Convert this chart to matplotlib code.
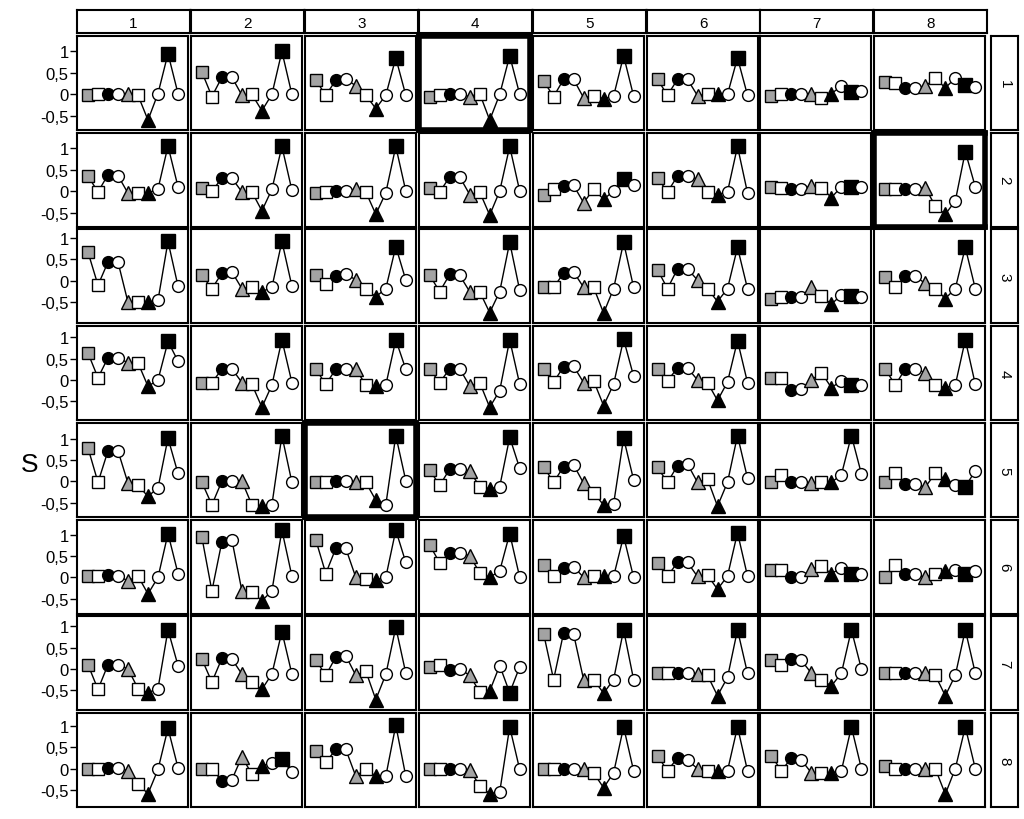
import numpy as np
import matplotlib.pyplot as plt

plt.rcParams['font.family'] = ['Liberation Sans', 'DejaVu Sans']

col_labels = ['1', '2', '3', '4', '5', '6', '7', '8']
row_labels = ['1', '2', '3', '4', '5', '6', '7', '8']
steps = np.arange(10)

# each panel: 10 values in order
# gray square, open, black circle, open, gray triangle, open, black triangle, open, black square, open
row1 = [
    [-0.02, 0.0, 0.0, 0.0, 0.0, -0.02, -0.6, 0.02, 0.95, 0.02],
    [0.52, -0.05, 0.4, 0.4, -0.02, 0.0, -0.38, 0.0, 1.0, 0.0],
    [0.33, -0.02, 0.33, 0.36, 0.2, -0.02, -0.33, -0.02, 0.85, -0.02],
    [-0.05, -0.02, 0.0, 0.0, -0.05, 0.02, -0.6, 0.0, 0.9, 0.0],
    [0.31, -0.05, 0.35, 0.35, -0.08, -0.03, -0.1, -0.04, 0.9, -0.04],
    [0.35, -0.02, 0.35, 0.35, -0.03, 0.0, 0.0, 0.0, 0.85, -0.02],
    [-0.04, 0.0, 0.0, 0.0, 0.0, -0.08, 0.02, 0.19, 0.05, 0.08],
    [0.28, 0.27, 0.15, 0.15, 0.19, 0.38, 0.15, 0.38, 0.23, 0.18],
]
row2 = [
    [0.35, -0.02, 0.38, 0.36, -0.05, -0.05, -0.05, 0.05, 1.05, 0.1],
    [0.08, 0.0, 0.3, 0.3, -0.02, -0.02, -0.46, 0.04, 1.04, 0.02],
    [-0.05, -0.02, 0.0, 0.0, 0.04, -0.02, -0.54, -0.04, 1.04, 0.0],
    [0.08, -0.02, 0.33, 0.33, -0.08, -0.02, -0.56, 0.0, 1.04, 0.0],
    [-0.1, 0.04, 0.12, 0.13, -0.27, 0.04, -0.19, 0.0, 0.27, 0.15],
    [0.31, -0.02, 0.35, 0.35, 0.28, -0.02, -0.08, -0.02, 1.04, -0.04],
    [0.1, 0.08, 0.04, 0.05, 0.12, 0.08, -0.15, 0.1, 0.1, 0.1],
    [0.04, 0.05, 0.05, 0.05, 0.08, -0.35, -0.54, -0.23, 0.92, 0.1],
]
row3 = [
    [0.67, -0.1, 0.44, 0.44, -0.5, -0.48, -0.5, -0.45, 0.92, -0.12],
    [0.13, -0.18, 0.18, 0.21, -0.18, -0.14, -0.25, -0.15, 0.92, -0.12],
    [0.13, -0.08, 0.11, 0.15, 0.03, -0.18, -0.37, -0.18, 0.8, 0.02],
    [0.13, -0.25, 0.15, 0.13, -0.25, -0.25, -0.74, -0.25, 0.9, -0.22],
    [-0.14, -0.15, 0.18, 0.21, -0.15, -0.15, -0.75, -0.18, 0.9, -0.15],
    [0.26, -0.18, 0.28, 0.28, 0.02, -0.18, -0.48, -0.18, 0.78, -0.18],
    [-0.43, -0.37, -0.37, -0.38, -0.14, -0.35, -0.54, -0.33, -0.35, -0.38],
    [0.08, -0.15, 0.11, 0.11, -0.06, -0.18, -0.41, -0.18, 0.78, -0.18],
]
row4 = [
    [0.63, 0.05, 0.52, 0.52, 0.4, 0.4, -0.15, 0.0, 0.9, 0.44],
    [-0.06, -0.06, 0.25, 0.26, -0.06, -0.1, -0.64, -0.12, 0.94, -0.06],
    [0.25, -0.1, 0.25, 0.26, 0.26, -0.12, -0.14, -0.12, 0.94, 0.25],
    [0.25, -0.06, 0.26, 0.26, -0.14, -0.06, -0.64, -0.25, 0.94, -0.1],
    [0.26, -0.05, 0.31, 0.32, -0.06, -0.02, -0.6, -0.1, 0.95, 0.09],
    [0.26, -0.02, 0.28, 0.28, 0.0, -0.06, -0.48, -0.05, 0.92, -0.06],
    [0.05, 0.05, -0.23, -0.22, 0.0, 0.17, -0.18, -0.02, -0.12, -0.12],
    [0.25, -0.12, 0.26, 0.26, 0.17, -0.12, -0.18, -0.12, 0.94, -0.1],
]
row5 = [
    [0.79, -0.02, 0.72, 0.72, -0.04, -0.09, -0.35, -0.15, 1.02, 0.19],
    [-0.02, -0.55, 0.01, 0.01, 0.01, -0.55, -0.58, -0.55, 1.08, -0.02],
    [-0.02, -0.02, 0.01, 0.01, -0.02, -0.02, -0.44, -0.55, 1.08, 0.02],
    [0.27, -0.09, 0.29, 0.29, 0.25, -0.12, -0.17, -0.12, 1.04, 0.31],
    [0.35, -0.02, 0.35, 0.39, -0.04, -0.27, -0.55, -0.53, 1.02, 0.04],
    [0.33, -0.02, 0.37, 0.41, -0.02, 0.06, -0.58, -0.02, 1.08, 0.08],
    [-0.02, 0.16, -0.02, -0.02, -0.04, -0.02, -0.02, 0.16, 1.08, 0.18],
    [-0.02, 0.21, -0.07, -0.07, -0.13, 0.19, 0.06, -0.09, -0.12, 0.25],
]
row6 = [
    [0.02, 0.02, 0.05, 0.03, -0.08, 0.03, -0.39, 0.0, 1.03, 0.09],
    [0.94, -0.32, 0.84, 0.88, -0.32, -0.34, -0.55, -0.32, 1.11, 0.03],
    [0.88, 0.09, 0.68, 0.68, 0.0, -0.03, -0.06, 0.0, 1.11, 0.35],
    [0.76, 0.34, 0.57, 0.57, 0.51, 0.11, 0.0, 0.15, 1.03, 0.0],
    [0.28, 0.03, 0.22, 0.25, 0.0, 0.03, 0.02, 0.02, 0.97, 0.0],
    [0.34, 0.03, 0.35, 0.35, 0.02, 0.05, -0.28, 0.03, 1.05, 0.03],
    [0.17, 0.18, 0.0, 0.0, 0.2, 0.26, 0.09, 0.22, 0.09, 0.09],
    [0.0, 0.3, 0.07, 0.07, 0.0, 0.09, 0.15, 0.17, 0.09, 0.15],
]
row7 = [
    [0.1, -0.48, 0.1, 0.1, 0.0, -0.46, -0.56, -0.46, 0.92, 0.08],
    [0.23, -0.31, 0.25, 0.23, -0.12, -0.31, -0.48, -0.12, 0.88, -0.12],
    [0.21, -0.15, 0.28, 0.31, -0.15, -0.05, -0.72, -0.13, 0.98, -0.1],
    [0.05, 0.1, -0.02, 0.0, -0.15, -0.54, -0.52, 0.08, -0.56, 0.05],
    [0.83, -0.25, 0.85, 0.82, -0.25, -0.25, -0.57, -0.25, 0.92, -0.25],
    [-0.1, -0.1, -0.1, -0.1, -0.12, -0.15, -0.63, -0.2, 0.92, -0.1],
    [0.2, 0.1, 0.23, 0.2, -0.1, -0.25, -0.4, -0.1, 0.92, 0.0],
    [-0.1, -0.1, -0.1, -0.1, -0.1, -0.15, -0.63, -0.15, 0.92, -0.1],
]
row8 = [
    [-0.02, -0.02, 0.02, 0.02, -0.05, -0.36, -0.59, -0.02, 0.95, 0.02],
    [-0.02, -0.02, -0.28, -0.26, 0.28, -0.13, 0.06, 0.14, 0.22, -0.08],
    [0.41, 0.15, 0.45, 0.45, -0.18, 0.0, -0.18, -0.18, 1.02, -0.18],
    [0.0, -0.02, -0.02, -0.02, -0.03, -0.4, -0.59, -0.55, 0.98, -0.02],
    [0.0, 0.0, 0.0, 0.0, 0.0, -0.1, -0.45, -0.1, 0.98, -0.05],
    [0.3, -0.05, 0.25, 0.2, 0.0, -0.05, -0.05, -0.05, 0.98, -0.05],
    [0.3, -0.05, 0.25, 0.2, -0.1, -0.1, -0.1, -0.05, 0.98, 0.0],
    [0.05, 0.0, 0.0, 0.0, 0.0, 0.0, -0.6, 0.0, 0.98, 0.0],
]
rows = [row1, row2, row3, row4, row5, row6, row7, row8]

# y range of each row of panels
ylims = [(-0.83, 1.36), (-0.83, 1.36), (-0.99, 1.2), (-0.94, 1.26),
         (-0.83, 1.38), (-0.85, 1.36), (-0.97, 1.24), (-0.9, 1.31)]
framed = [(0, 3), (1, 7), (4, 2)]

gray = '#a3a3a3'
markers = ['s', 's', 'o', 'o', '^', 's', '^', 'o', 's', 'o']
faces = [gray, 'white', 'black', 'white', gray, 'white', 'black', 'white', 'black', 'white']
sizes = [8.5, 8, 8.5, 8.5, 9.5, 8, 10, 8.5, 10, 8.5]

W, H = 1024, 820
fig = plt.figure(figsize=(W / 100, H / 100), dpi=100)


def box(x, y, w, h):
    return [x / W, 1 - (y + h) / H, w / W, h / H]


x_left, x_step, pw = 77, 113.9, 111
y_top, y_step, ph = 37, 96.7, 94

# column header strip
for c in range(8):
    hx = fig.add_axes(box(x_left + c * x_step, 11, pw + 2, 23))
    hx.set_xticks([])
    hx.set_yticks([])
    for s in hx.spines.values():
        s.set_linewidth(1.5)
    hx.text(0.5, 0.45, col_labels[c], ha='center', va='center', fontsize=11)

for r in range(8):
    y0 = y_top + r * y_step
    # row label strip on the right
    sx = fig.add_axes(box(991, y0, 27, ph))
    sx.set_xticks([])
    sx.set_yticks([])
    for s in sx.spines.values():
        s.set_linewidth(1.5)
    sx.text(0.5, 0.5, row_labels[r], rotation=-90, ha='center', va='center', fontsize=11)

    for c in range(8):
        ax = fig.add_axes(box(x_left + c * x_step, y0, pw, ph))
        vals = rows[r][c]
        ax.plot(steps, vals, color='black', lw=1, zorder=1)
        for i in steps:
            ax.plot(i, vals[i], marker=markers[i], ms=sizes[i], mfc=faces[i],
                    mec='black', mew=1, linestyle='none', zorder=2 + i)
        ax.set_xlim(-1.1, 10.0)
        ax.set_ylim(*ylims[r])
        ax.set_xticks([])
        lw = 4 if (r, c) in framed else 1.5
        for s in ax.spines.values():
            s.set_linewidth(lw)
        if c == 0:
            ax.set_yticks([-0.5, 0, 0.5, 1])
            ax.set_yticklabels(['-0,5', '0', '0,5', '1'], fontsize=12)
            ax.tick_params(axis='y', length=5, width=1, pad=1)
        else:
            ax.set_yticks([])

fig.text(30 / W, 1 - 465 / H, 'S', fontsize=19, ha='center', va='center')

fig.savefig('out.png', dpi=100)
